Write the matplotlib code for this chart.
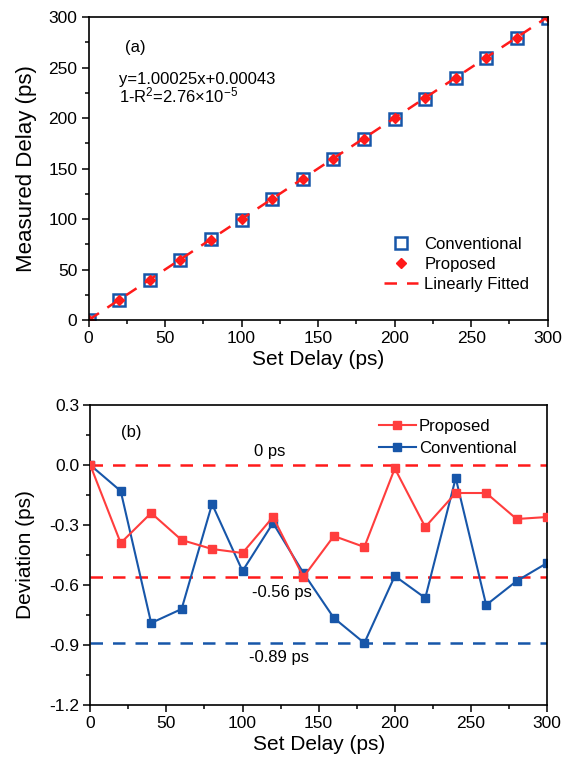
import matplotlib.pyplot as plt
from matplotlib.ticker import MultipleLocator, FormatStrFormatter

plt.rcParams['font.family'] = ['Liberation Sans', 'DejaVu Sans']
plt.rcParams['mathtext.fontset'] = 'custom'
plt.rcParams['mathtext.rm'] = 'Liberation Sans'
plt.rcParams['mathtext.it'] = 'Liberation Sans:italic'

# ---------------- data ----------------
set_delay = [0, 20, 40, 60, 80, 100, 120, 140, 160, 180, 200, 220, 240, 260, 280, 300]
measured_conventional = [0, 19.87, 39.21, 59.28, 79.81, 99.47, 119.71, 139.46,
                         159.24, 179.11, 199.45, 219.34, 239.94, 259.30, 279.42, 299.51]
measured_proposed = [0, 19.61, 39.76, 59.63, 79.58, 99.56, 119.74, 139.44,
                     159.64, 179.59, 199.98, 219.69, 239.86, 259.86, 279.73, 299.74]
fit_slope, fit_offset = 1.00025, 0.00043
fit_x = [0, 300]

dev_proposed = [0, -0.39, -0.24, -0.375, -0.42, -0.44, -0.26, -0.56,
                -0.355, -0.41, -0.017, -0.31, -0.14, -0.14, -0.27, -0.26]
dev_conventional = [0, -0.13, -0.79, -0.72, -0.195, -0.53, -0.29, -0.54,
                    -0.765, -0.89, -0.555, -0.665, -0.065, -0.70, -0.58, -0.49]
ref_levels = [0.0, -0.56, -0.89]
ref_labels = ['0 ps', '-0.56 ps', '-0.89 ps']

BLUE = '#1756a9'
RED = '#ff1a1a'
RED_LINE = '#ff3d3d'

fig = plt.figure(figsize=(5.64, 7.63), dpi=100)
ax_a = fig.add_axes([0.157, 0.5806, 0.814, 0.397])
ax_b = fig.add_axes([0.160, 0.0760, 0.810, 0.3932])


def style_axes(ax):
    for s in ax.spines.values():
        s.set_linewidth(1.2)
    ax.tick_params(which='both', direction='out', top=False, right=False,
                   labelsize=12.5, width=1.1, pad=3)
    ax.tick_params(which='major', length=5)
    ax.tick_params(which='minor', length=3)
    ax.xaxis.set_major_locator(MultipleLocator(50))
    ax.xaxis.set_minor_locator(MultipleLocator(25))
    ax.set_xlim(0, 300)
    ax.set_xlabel('Set Delay (ps)', fontsize=15, labelpad=3)


# ---------------- panel (a) ----------------
ax_a.plot(set_delay, measured_conventional, ls='none', marker='s', ms=8,
          mfc='none', mec=BLUE, mew=1.8, label='Conventional')
ax_a.plot(set_delay, measured_proposed, ls='none', marker='D', ms=5.5,
          color=RED, label='Proposed')
ax_a.plot(fit_x, [fit_slope * x + fit_offset for x in fit_x], color=RED,
          ls=(0, (5, 4)), lw=1.8, label='Linearly Fitted')
style_axes(ax_a)
ax_a.set_ylim(0, 300)
ax_a.yaxis.set_major_locator(MultipleLocator(50))
ax_a.yaxis.set_minor_locator(MultipleLocator(25))
ax_a.set_ylabel('Measured Delay (ps)', fontsize=16, labelpad=8)
ax_a.text(24, 270, '(a)', fontsize=12, va='center')
ax_a.text(20, 238, 'y=1.00025x+0.00043', fontsize=12, va='center')
ax_a.text(20, 222, '1-R$^2$=2.76\u00d710$^{\\mathrm{-5}}$', fontsize=12, va='center')
ax_a.legend(loc='lower right', bbox_to_anchor=(0.975, 0.072), frameon=False,
            fontsize=12, handlelength=2.0, handletextpad=0.4,
            labelspacing=0.3, borderaxespad=0.0)

# ---------------- panel (b) ----------------
for lvl, c in zip(ref_levels, [RED, RED, BLUE]):
    ax_b.axhline(lvl, color=c, ls=(0, (5, 4)), lw=1.8, zorder=1)
ax_b.plot(set_delay, dev_proposed, color=RED_LINE, lw=1.5, marker='s', ms=5.5,
          label='Proposed', zorder=3)
ax_b.plot(set_delay, dev_conventional, color=BLUE, lw=1.5, marker='s', ms=5.5,
          label='Conventional', zorder=2)
style_axes(ax_b)
ax_b.set_ylim(-1.2, 0.3)
ax_b.yaxis.set_major_locator(MultipleLocator(0.3))
ax_b.yaxis.set_minor_locator(MultipleLocator(0.15))
ax_b.yaxis.set_major_formatter(FormatStrFormatter('%.1f'))
ax_b.set_ylabel('Deviation (ps)', fontsize=15, labelpad=10)
ax_b.text(20, 0.165, '(b)', fontsize=12, va='center')
for lvl, txt, ty, tx in zip(ref_levels, ref_labels, [0.07, -0.635, -0.96], [118, 126, 124]):
    ax_b.text(tx, ty, txt, fontsize=12, ha='center', va='center')
ax_b.legend(loc='upper right', bbox_to_anchor=(0.948, 0.975), frameon=False,
            fontsize=12, handlelength=2.2, handletextpad=0.2,
            labelspacing=0.4, borderaxespad=0.0)

fig.savefig('out.png', dpi=100)
